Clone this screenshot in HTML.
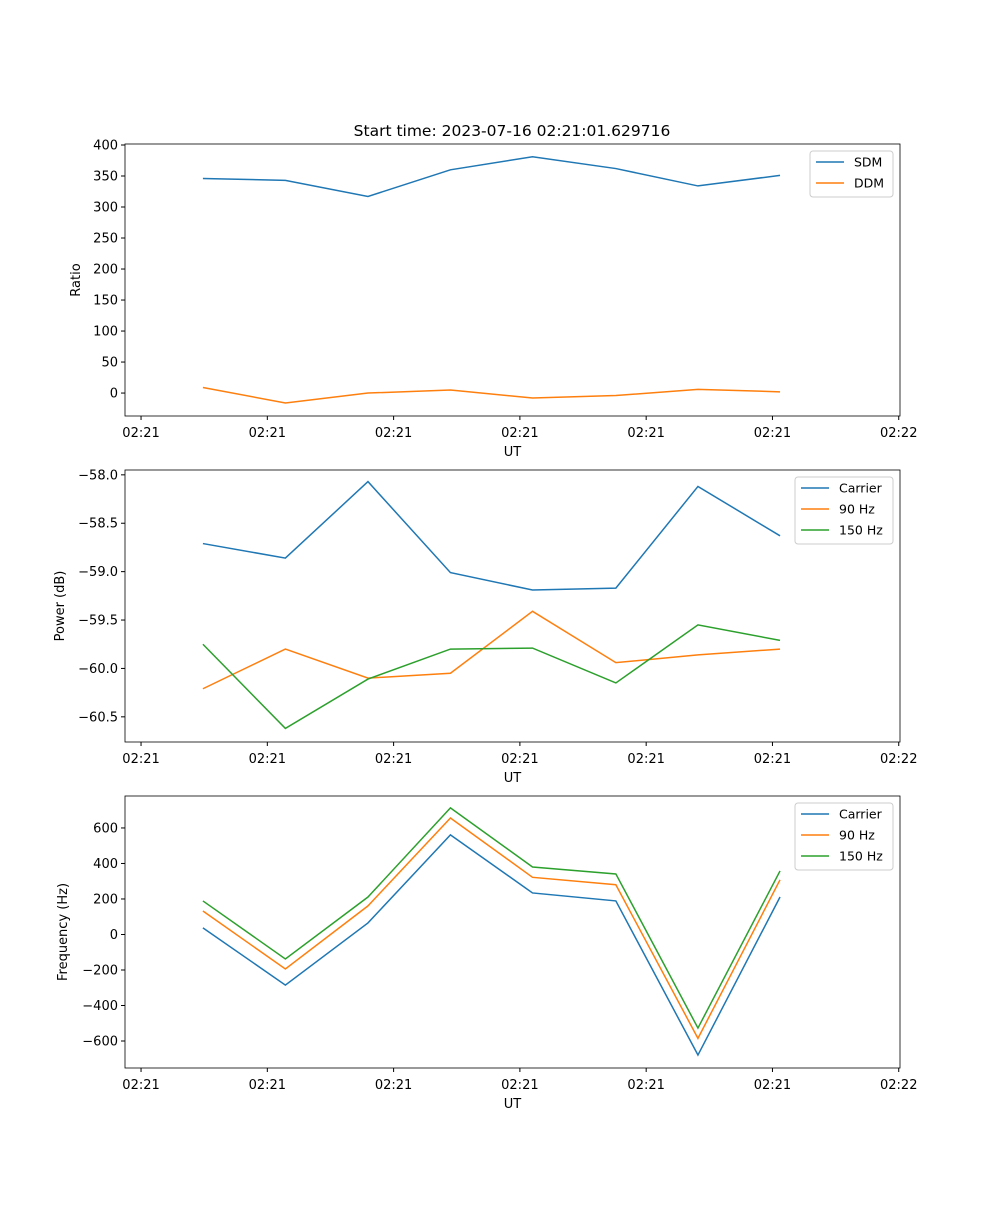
<!DOCTYPE html>
<html><head><meta charset="utf-8"><style>
body{margin:0;background:#fff;font-family:"Liberation Sans","DejaVu Sans",sans-serif}
svg text{font-family:"DejaVu Sans","Liberation Sans",sans-serif;font-size:13px;fill:#000}
</style></head><body>
<svg id="fig" width="1000" height="1200">
<text x="512" y="136" text-anchor="middle" style="font-size:15.5px">Start time: 2023-07-16 02:21:01.629716</text>
</svg>
<script>
const xPts = [0.49,1.143,1.797,2.45,3.10,3.76,4.41,5.06];
const xTicks = [0,1,2,3,4,5,6];
const xTickLabels = ["02:21","02:21","02:21","02:21","02:21","02:21","02:22"];
const sdm = [346,343,317,360,381,362,334,351];
const ddm = [9,-16,0,5,-8,-4,6,2];
const ratioTicks = [0,50,100,150,200,250,300,350,400];
const pCarrier = [-58.71,-58.86,-58.07,-59.01,-59.19,-59.17,-58.12,-58.63];
const p90 = [-60.21,-59.80,-60.10,-60.05,-59.41,-59.94,-59.86,-59.80];
const p150 = [-59.75,-60.62,-60.11,-59.80,-59.79,-60.15,-59.55,-59.71];
const powerTicks = [-60.5,-60.0,-59.5,-59.0,-58.5,-58.0];
const fCarrier = [37,-285,65,561,234,189,-679,211];
const f90 = [132,-194,161,656,322,280,-585,308];
const f150 = [189,-138,211,713,380,341,-527,358];
const freqTicks = [-600,-400,-200,0,200,400,600];

const NS="http://www.w3.org/2000/svg";
const fig=document.getElementById('fig');
function mk(tag,attrs,parent){const e=document.createElementNS(NS,tag);for(const k in attrs)e.setAttribute(k,attrs[k]);(parent||fig).appendChild(e);return e;}
const L=125,R=900,xmin=-0.127,xmax=6.01;
const sx=v=>L+(v-xmin)/(xmax-xmin)*(R-L);
const C=['#1f77b4','#ff7f0e','#2ca02c'];

function panel(id,top,bot,ymin,ymax,ticks,fmt,series,names,ylabel,legW,legX){
  const g=mk('g',{});
  
  
  const sy=v=>bot-(v-ymin)/(ymax-ymin)*(bot-top);
  ticks.forEach(t=>{const y=sy(t);
    mk('line',{x1:L-4,x2:L,y1:y,y2:y,stroke:'#000'},g);
    const tx=mk('text',{x:L-7,y:y+4.5,'text-anchor':'end'},g);tx.textContent=fmt(t);
    
    
  });
  xTicks.forEach((t,i)=>{const x=sx(t);
    mk('line',{x1:x,x2:x,y1:bot,y2:bot+4,stroke:'#000'},g);
    const tx=mk('text',{x:x,y:bot+21,'text-anchor':'middle'},g);tx.textContent=xTickLabels[i];
    
    
  });
  series.forEach((s,k)=>{
    const p=mk('polyline',{points:s.map((v,i)=>sx(xPts[i])+','+sy(v)).join(' '),fill:'none',stroke:C[k],'stroke-width':1.5},g);
    
    
  });
  mk('rect',{x:L,y:top,width:R-L,height:bot-top,fill:'none',stroke:'#000','stroke-width':0.8},g);
  const xl=mk('text',{x:(L+R)/2,y:bot+40,'text-anchor':'middle'},g);xl.textContent='UT';
  
  
  const yl=mk('text',{x:0,y:0,'text-anchor':'middle',transform:`translate(${ylabel[1]},${(top+bot)/2}) rotate(-90)`},g);yl.textContent=ylabel[0];
  
  
  const lg=mk('g',{},g);
  
  
  mk('rect',{x:legX,y:top+7,width:legW,height:4+names.length*21,fill:'#fff',stroke:'#ccc',rx:3},lg);
  names.forEach((n,k)=>{const y=top+7+11+k*21;
    mk('line',{x1:legX+6,x2:legX+34,y1:y,y2:y,stroke:C[k],'stroke-width':1.5},lg);
    const t=mk('text',{x:legX+44,y:y+4.5,style:'font-size:12.5px'},lg);t.textContent=n;
    
    
  });
}
panel('ratio',144,416,-37,401.6,ratioTicks,v=>String(v),[sdm,ddm],['SDM','DDM'],['Ratio',80],83,810);
panel('power',470,742,-60.76,-57.95,powerTicks,v=>'\u2212'+Math.abs(v).toFixed(1),[pCarrier,p90,p150],['Carrier','90 Hz','150 Hz'],['Power (dB)',64],98,795);
panel('freq',796,1068,-752,780,freqTicks,v=>(v<0?'\u2212':'')+Math.abs(v),[fCarrier,f90,f150],['Carrier','90 Hz','150 Hz'],['Frequency (Hz)',67],98,795);
</script>
</body></html>
